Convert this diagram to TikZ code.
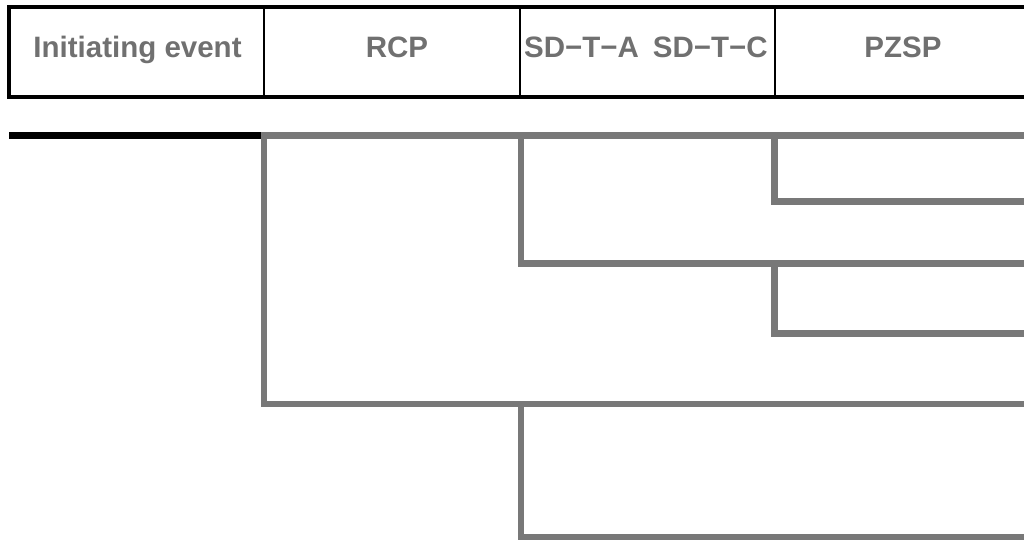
\documentclass[tikz,border=0pt]{standalone}
\usepackage{fontspec}
\setmainfont{Liberation Sans}
\definecolor{linegray}{HTML}{787878}
\definecolor{textgray}{HTML}{707070}
\tikzset{
  hdr/.style={anchor=base, text=textgray, font=\bfseries\fontsize{29.5}{34}\selectfont, inner sep=0pt},
  branch/.style={draw=linegray, line width=6.5pt, line cap=rect, line join=miter},
  frame/.style={draw=black, line width=4pt},
  divider/.style={draw=black, line width=2pt},
}
\begin{document}
\begin{tikzpicture}[x=1pt,y=-1pt]
\useasboundingbox (0,0) rectangle (1024,540);
\begin{scope}
\clip (0,0) rectangle (1024,540);
% header
\draw[frame] (9,7.5) rectangle (1040,97);
\draw[divider] (264,7.5) -- (264,97);
\draw[divider] (519.5,7.5) -- (519.5,97);
\draw[divider] (774.5,7.5) -- (774.5,97);
\node[hdr] (ie) at (137.5,58) {Initiating event};
\node[hdr] (rcp) at (397,58) {RCP};
\node[hdr] (sdt) at (646,58) {SD−T−A\hspace{14pt}SD−T−C};
\node[hdr] (pz) at (903,58) {PZSP};
% coordinates
\coordinate (s) at (9,135.5);
\coordinate (a) at (264,135.5);
\coordinate (b) at (521,135.5);
\coordinate (c) at (774.5,135.5);
\coordinate (e1) at (1040,135.5);
\coordinate (c1) at (774.5,201.5);
\coordinate (e2) at (1040,201.5);
\coordinate (b1) at (521,263.5);
\coordinate (e3) at (1040,263.5);
\coordinate (c2) at (774.5,263.5);
\coordinate (c3) at (774.5,333.5);
\coordinate (e4) at (1040,333.5);
\coordinate (a1) at (264,404);
\coordinate (e5) at (1040,404);
\coordinate (b2) at (521,404);
\coordinate (b3) at (521,537.5);
\coordinate (e6) at (1040,537.5);
% initiating event line
\draw[draw=black, line width=6.5pt] (s) -- (a);
% branches
\draw[branch] (a) -- (e1);
\draw[branch] (c) -- (c1) -- (e2);
\draw[branch] (b) -- (b1) -- (e3);
\draw[branch] (c2) -- (c3) -- (e4);
\draw[branch] (a) -- (a1) -- (e5);
\draw[branch] (b2) -- (b3) -- (e6);
\end{scope}
\end{tikzpicture}
\end{document}
